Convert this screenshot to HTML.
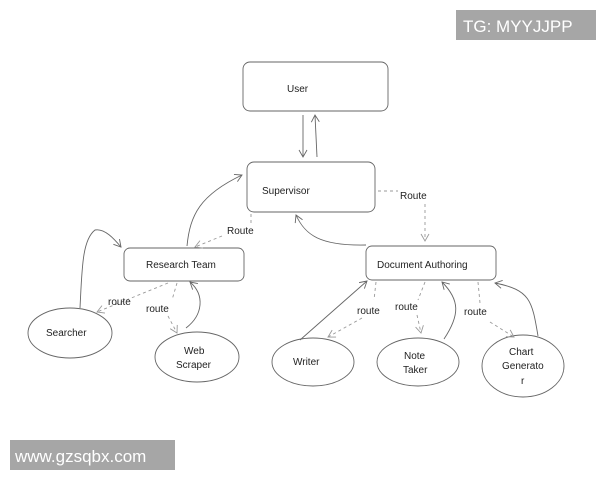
<!DOCTYPE html>
<html><head><meta charset="utf-8"><style>
html,body{margin:0;padding:0;background:#fff;}
svg{display:block}
text{font-family:"Liberation Sans",sans-serif;font-size:10px;fill:#222}
</style></head><body>
<svg width="600" height="480" viewBox="0 0 600 480" xmlns="http://www.w3.org/2000/svg">
<defs>
<marker id="a" markerWidth="10" markerHeight="10" refX="8" refY="5" orient="auto" markerUnits="userSpaceOnUse">
<path d="M1,1 L8,5 L1,9" fill="none" stroke="#666" stroke-width="0.9"/></marker>
<marker id="d" markerWidth="10" markerHeight="10" refX="8" refY="5" orient="auto" markerUnits="userSpaceOnUse">
<path d="M1,1 L8,5 L1,9" fill="none" stroke="#999" stroke-width="0.9"/></marker>
</defs>
<rect x="456" y="10" width="140" height="30" fill="#a6a6a6"/>
<text x="463" y="32" style="font-size:17px;fill:#fff">TG: MYYJJPP</text>
<rect x="10" y="440" width="165" height="30" fill="#a6a6a6"/>
<text x="15" y="462" style="font-size:17px;fill:#fff">www.gzsqbx.com</text>
<g fill="none" stroke="#666" stroke-width="0.9">
<rect x="243" y="62" width="145" height="49" rx="7"/>
<rect x="247" y="162" width="128" height="50" rx="7"/>
<rect x="124" y="248" width="120" height="33" rx="6"/>
<rect x="366" y="246" width="130" height="34" rx="6"/>
<ellipse cx="70" cy="333" rx="42" ry="25"/>
<ellipse cx="197" cy="357" rx="42" ry="25"/>
<ellipse cx="313" cy="362" rx="41" ry="24"/>
<ellipse cx="418" cy="362" rx="41" ry="24"/>
<ellipse cx="523" cy="366" rx="41" ry="31"/>
<path d="M303,115 L303,157" marker-end="url(#a)"/>
<path d="M317,157 L315,115" marker-end="url(#a)"/>
<path d="M187,246 C190,215 200,195 242,175" marker-end="url(#a)"/>
<path d="M366,245 C320,246 305,235 296,215" marker-end="url(#a)"/>
<path d="M80,308 C82,270 82,240 95,230 C105,228 115,240 121,247" marker-end="url(#a)"/>
<path d="M186,328 C203,315 205,295 190,282" marker-end="url(#a)"/>
<path d="M300,340 L367,281" marker-end="url(#a)"/>
<path d="M444,339 C460,315 460,300 442,282" marker-end="url(#a)"/>
<path d="M538,336 C532,300 530,290 495,283" marker-end="url(#a)"/>
</g>
<g fill="none" stroke="#999" stroke-width="0.9" stroke-dasharray="3,3">
<path d="M251,214 L251,224"/>
<path d="M222,236 L195,247" marker-end="url(#d)"/>
<path d="M378,191 L398,191"/>
<path d="M425,204 L425,241" marker-end="url(#d)"/>
<path d="M168,283 L97,312" marker-end="url(#d)"/>
<path d="M177,283 L172,300 M168,316 L177,333" marker-end="url(#d)"/>
<path d="M376,282 L374,300"/>
<path d="M362,318 L328,337" marker-end="url(#d)"/>
<path d="M425,282 L418,300 M417,315 L421,333" marker-end="url(#d)"/>
<path d="M478,282 L480,303 M490,322 L514,337" marker-end="url(#d)"/>
</g>
<text x="287" y="92">User</text>
<text x="262" y="194">Supervisor</text>
<text x="146" y="268">Research Team</text>
<text x="377" y="268">Document Authoring</text>
<text x="46" y="336">Searcher</text>
<text x="184" y="354">Web</text>
<text x="176" y="368">Scraper</text>
<text x="293" y="365">Writer</text>
<text x="404" y="359">Note</text>
<text x="403" y="373">Taker</text>
<text x="509" y="355">Chart</text>
<text x="502" y="369">Generato</text>
<text x="521" y="384">r</text>
<text x="400" y="199">Route</text>
<text x="227" y="234">Route</text>
<text x="108" y="305">route</text>
<text x="146" y="312">route</text>
<text x="357" y="314">route</text>
<text x="395" y="310">route</text>
<text x="464" y="315">route</text>
</svg>
</body></html>
